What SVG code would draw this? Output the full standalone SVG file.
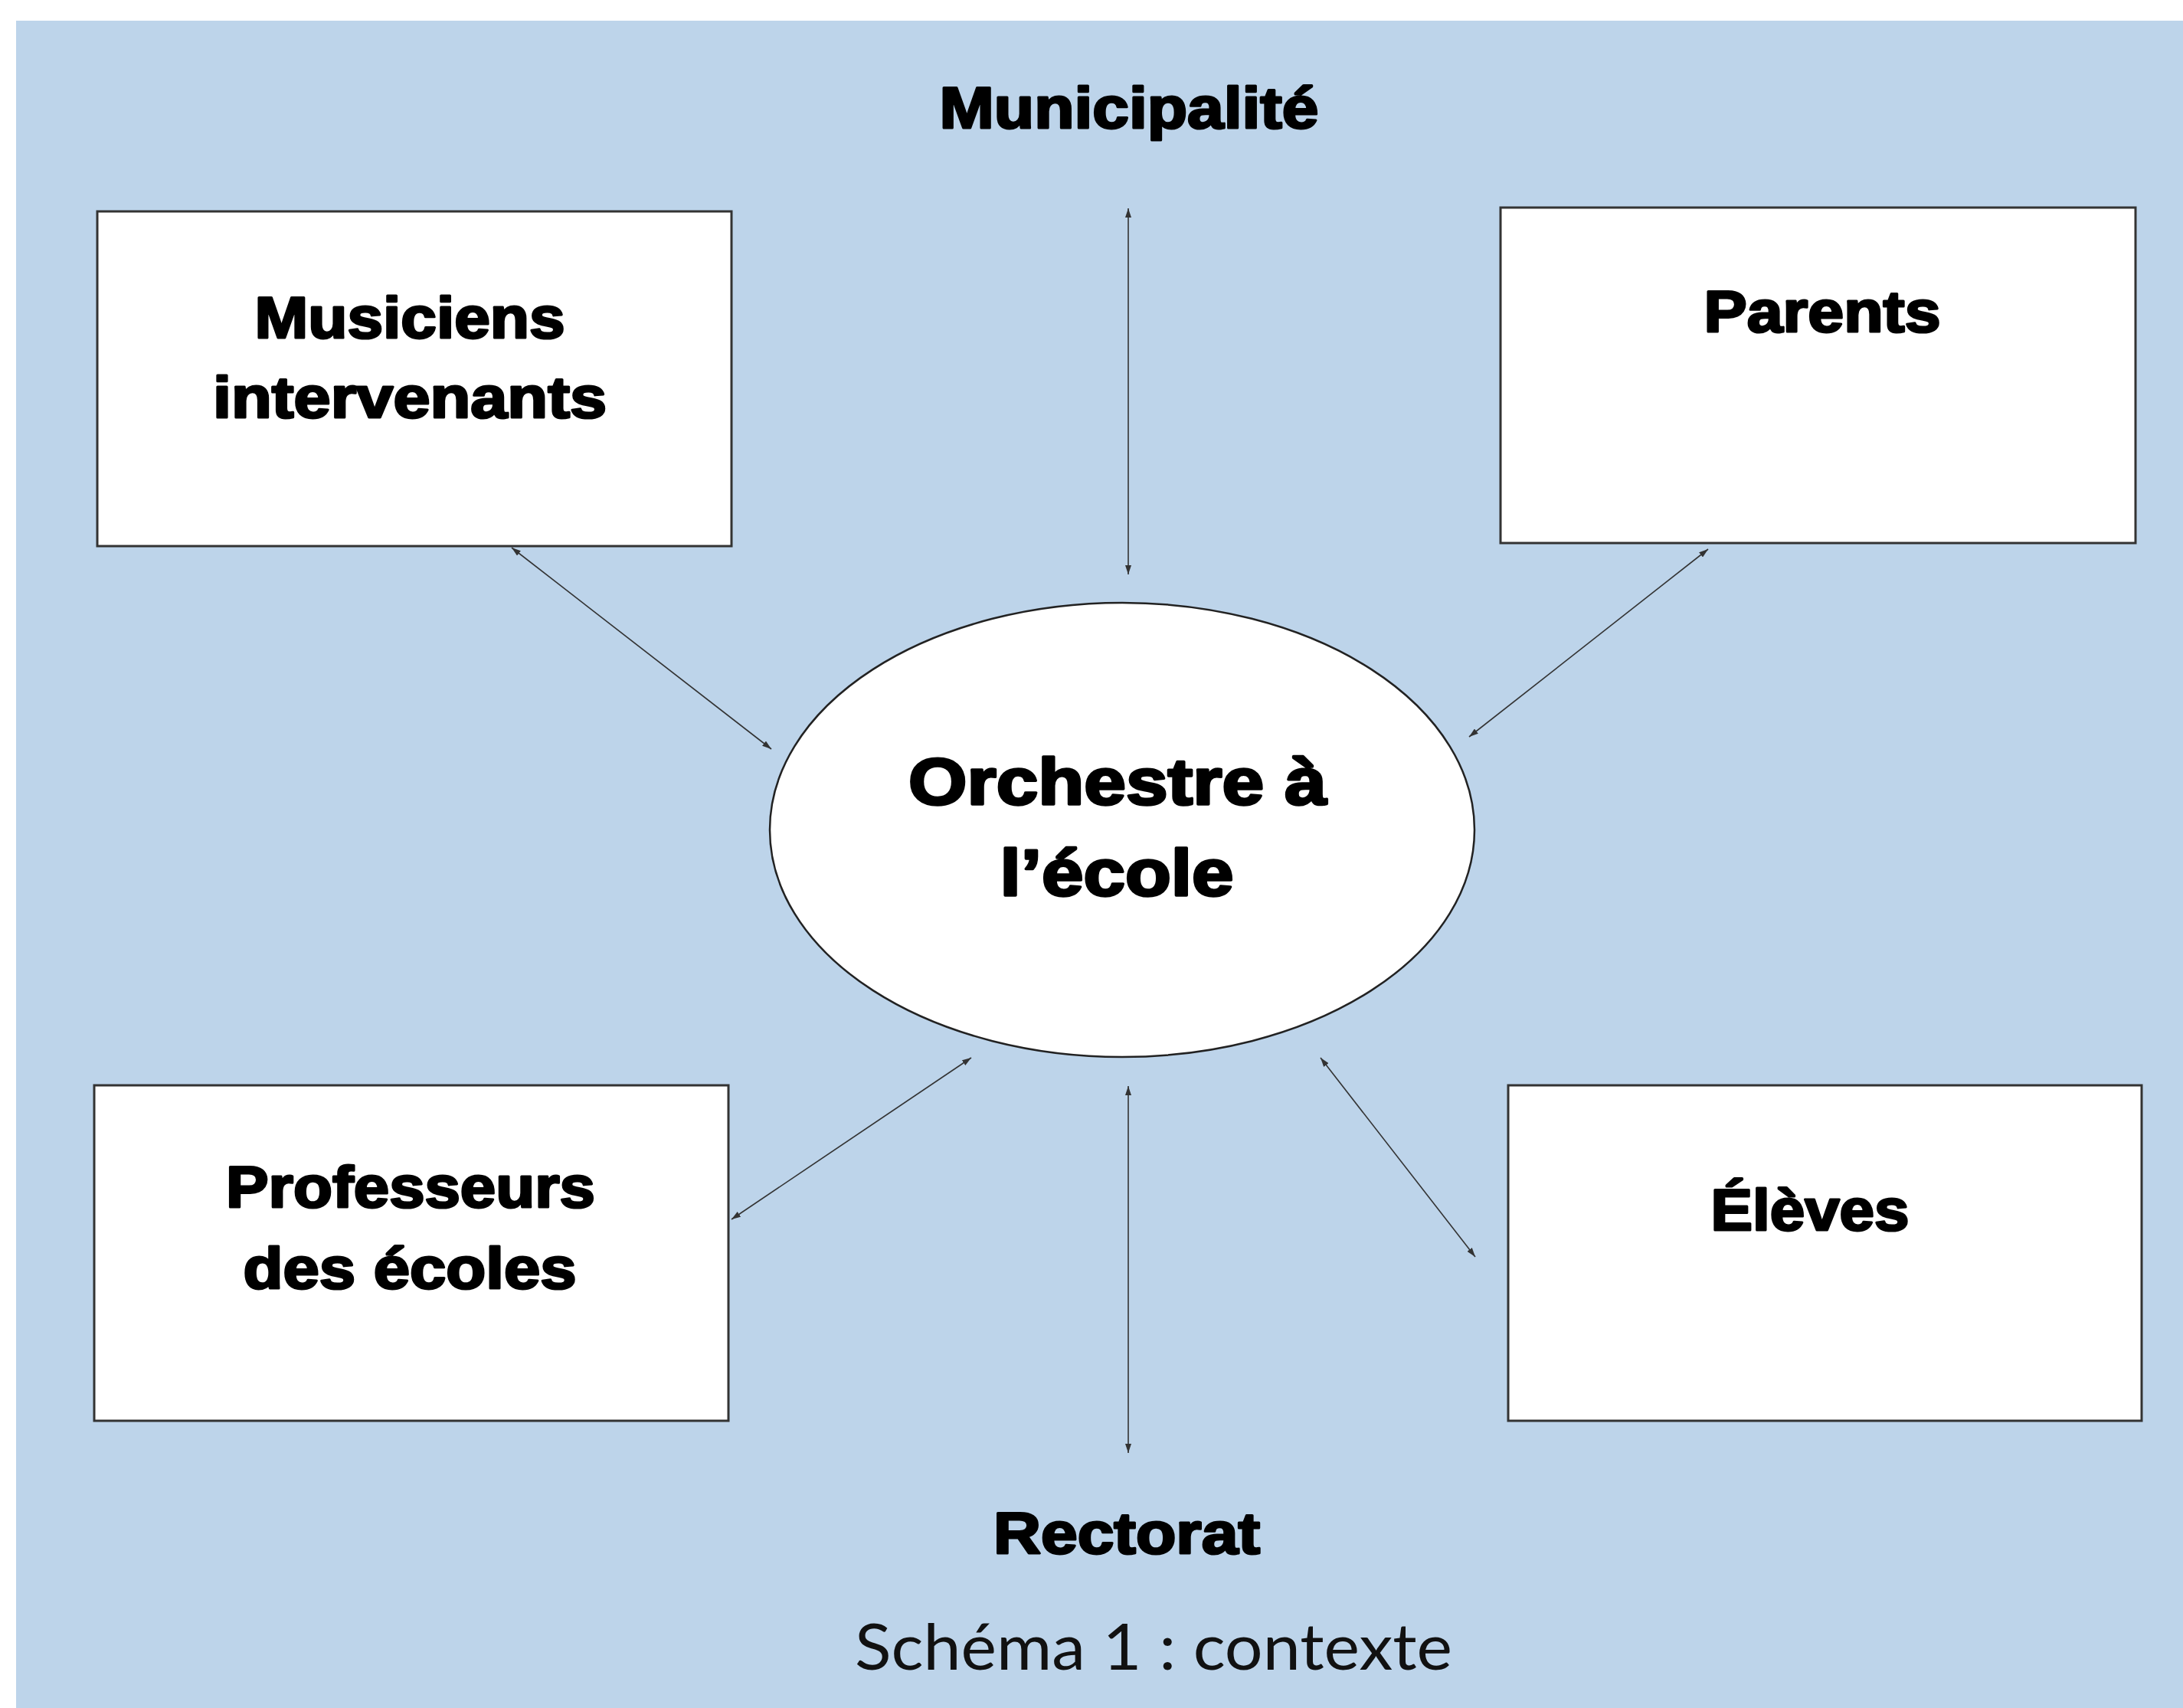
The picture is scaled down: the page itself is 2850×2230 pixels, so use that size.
<svg xmlns="http://www.w3.org/2000/svg" width="2850" height="2230" viewBox="0 0 2850 2230">
<style>
.box{fill:#fff;stroke:#333;stroke-width:3}
.lbl{font-family:"Liberation Sans",Arial,sans-serif;font-weight:bold;font-size:76px;fill:#000;stroke:#000;stroke-width:3;text-anchor:middle;stroke-linejoin:round}
.big{font-size:86px;stroke-width:3.4}
.cap{font-family:Lato,"Open Sans",sans-serif;font-size:84px;fill:#111;text-anchor:middle}
.con{stroke:#333;stroke-width:1.6;fill:none;marker-start:url(#ah);marker-end:url(#ah)}
</style>
<defs>
<marker id="ah" viewBox="0 0 12 8" refX="12" refY="4" markerWidth="12" markerHeight="8" markerUnits="userSpaceOnUse" orient="auto-start-reverse">
<path d="M0,0 L12,4 L0,8 z" fill="#333"/>
</marker>
</defs>
<rect x="0" y="0" width="2850" height="2230" fill="#fff"/>
<rect x="21" y="27" width="2829" height="2203" fill="#BDD4EA"/>
<g id="connectors">
<line class="con" x1="1473" y1="750" x2="1473" y2="272"/>
<line class="con" x1="1007" y1="978" x2="668" y2="715"/>
<line class="con" x1="1918" y1="962" x2="2230" y2="717"/>
<line class="con" x1="1268" y1="1381" x2="955" y2="1592"/>
<line class="con" x1="1724" y1="1381" x2="1926" y2="1641"/>
<line class="con" x1="1473" y1="1418" x2="1473" y2="1897"/>
</g>
<g id="municipalite">
<text class="lbl" x="1474" y="167" textLength="495" lengthAdjust="spacingAndGlyphs">Municipalité</text>
</g>
<g id="musiciens">
<rect class="box" x="127" y="276" width="828" height="437"/>
<text class="lbl" x="535" y="441" textLength="405" lengthAdjust="spacingAndGlyphs">Musiciens</text>
<text class="lbl" x="535" y="545" textLength="514" lengthAdjust="spacingAndGlyphs">intervenants</text>
</g>
<g id="parents">
<rect class="box" x="1959" y="271" width="829" height="438"/>
<text class="lbl" x="2379" y="433" textLength="309" lengthAdjust="spacingAndGlyphs">Parents</text>
</g>
<g id="orchestre">
<ellipse cx="1465" cy="1083.5" rx="460" ry="296.5" fill="#fff" stroke="#222" stroke-width="2.5"/>
<text class="lbl big" x="1459" y="1050" textLength="546" lengthAdjust="spacingAndGlyphs">Orchestre à</text>
<text class="lbl big" x="1458" y="1169" textLength="305" lengthAdjust="spacingAndGlyphs">l’école</text>
</g>
<g id="professeurs">
<rect class="box" x="123" y="1417" width="828" height="438"/>
<text class="lbl" x="536" y="1576" textLength="482" lengthAdjust="spacingAndGlyphs">Professeurs</text>
<text class="lbl" x="535" y="1682" textLength="435" lengthAdjust="spacingAndGlyphs">des écoles</text>
</g>
<g id="eleves">
<rect class="box" x="1969" y="1417" width="827" height="438"/>
<text class="lbl" x="2363" y="1606" textLength="259" lengthAdjust="spacingAndGlyphs">Élèves</text>
</g>
<g id="rectorat">
<text class="lbl" x="1471" y="2028" textLength="348" lengthAdjust="spacingAndGlyphs">Rectorat</text>
</g>
<g id="caption">
<text class="cap" x="1506" y="2180" textLength="780" lengthAdjust="spacingAndGlyphs">Schéma 1 : contexte</text>
</g>
</svg>
